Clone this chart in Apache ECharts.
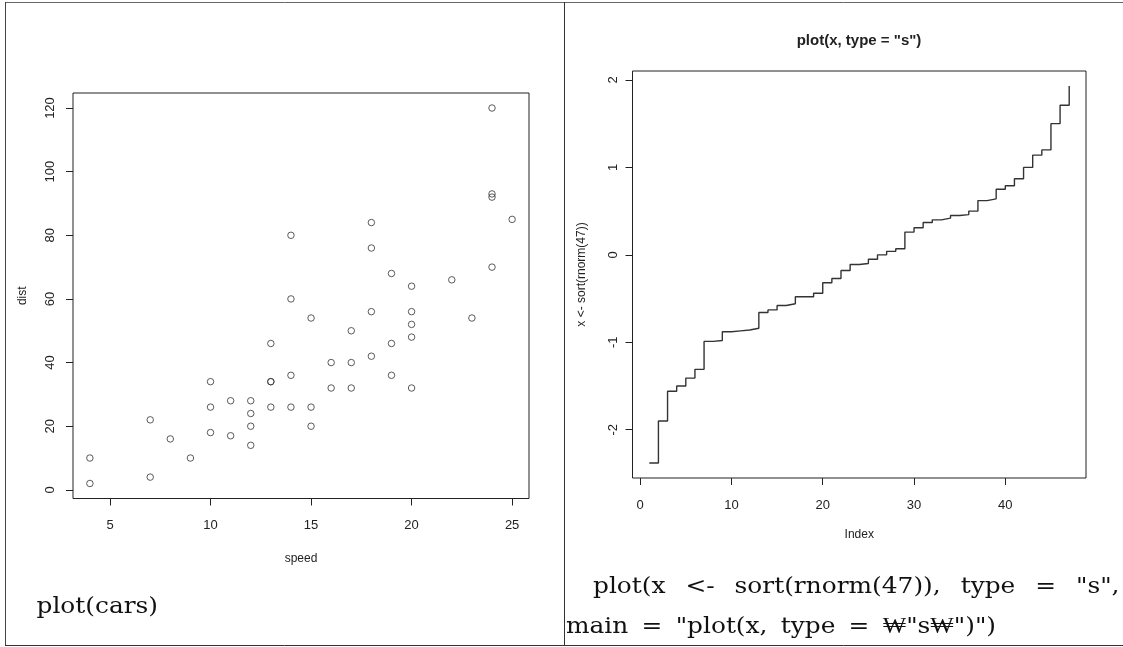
<!DOCTYPE html>
<html>
<head>
<meta charset="utf-8">
<script src="https://cdn.jsdelivr.net/npm/echarts@6/dist/echarts.min.js"></script>
<style>
  html, body { margin: 0; padding: 0; background: #fff; }
  #chart { width: 1123px; height: 647px; }
</style>
</head>
<body>
<div id="chart"></div>
<script>
// cars dataset (left panel)
const speed = [4, 4, 7, 7, 8, 9, 10, 10, 10, 11, 11, 12, 12, 12, 12, 13, 13, 13, 13, 14, 14, 14, 14, 15, 15, 15, 16, 16, 17, 17, 17, 18, 18, 18, 18, 19, 19, 19, 20, 20, 20, 20, 20, 22, 23, 24, 24, 24, 24, 25]
const dist = [2, 10, 4, 22, 16, 10, 18, 26, 34, 17, 28, 14, 20, 24, 28, 26, 34, 34, 46, 26, 36, 60, 80, 20, 26, 54, 32, 40, 32, 40, 50, 42, 56, 76, 84, 36, 46, 68, 32, 48, 52, 56, 64, 66, 54, 70, 92, 93, 120, 85]
const speedTicks = [5, 10, 15, 20, 25]
const distTicks = [0, 20, 40, 60, 80, 100, 120]

// sorted values (right panel), index 1..47
const sortedX = [
  -2.38, -1.90, -1.56, -1.50, -1.41, -1.31, -0.99, -0.98, -0.88, -0.87,
  -0.86, -0.84, -0.66, -0.63, -0.58, -0.56, -0.48, -0.48, -0.44, -0.32,
  -0.27, -0.18, -0.11, -0.10, -0.05, 0.00, 0.04, 0.07, 0.26, 0.31,
  0.37, 0.40, 0.42, 0.45, 0.46, 0.50, 0.62, 0.64, 0.75, 0.79,
  0.87, 1.00, 1.14, 1.20, 1.50, 1.71, 1.93
]
const indexTicks = [0, 10, 20, 30, 40]
const valueTicks = [-2, -1, 0, 1, 2]

// caption text under the plots
const captionCars = 'plot(cars)'
const caption1 = ['plot(x', '<-', 'sort(rnorm(47)),', 'type', '=', '"s",']
const caption2 = ['main', '=', '"plot(x,', 'type', '=', '₩"s₩")")']

const INK = '#222'
const SANS = 'Liberation Sans, Arial, sans-serif'
const CAPTION_FONT = '23px DejaVu Serif, serif'
const CAPTION_STRETCH = 1.08 // the original caption font is a wide Korean serif

// R pads each axis by 4% of the data range
function rRange(values) {
  const lo = Math.min(...values)
  const hi = Math.max(...values)
  const pad = (hi - lo) * 0.04
  return [lo - pad, hi + pad]
}

const index = sortedX.map((v, i) => i + 1)
const [sMin, sMax] = rRange(speed)
const [dMin, dMax] = rRange(dist)
const [iMin, iMax] = rRange(index)
const [vMin, vMax] = rRange(sortedX)

function rAxis(opts) {
  return {
    type: 'value',
    gridIndex: opts.grid,
    min: opts.min,
    max: opts.max,
    name: opts.name,
    nameLocation: 'middle',
    nameGap: opts.nameGap,
    nameTextStyle: { fontFamily: SANS, fontSize: 12, color: INK },
    axisLine: { show: false, onZero: false },
    splitLine: { show: false },
    axisTick: { show: true, length: 7, customValues: opts.ticks, lineStyle: { color: INK, width: 1 } },
    axisLabel: {
      customValues: opts.ticks,
      rotate: opts.rotate || 0,
      margin: opts.margin,
      fontFamily: SANS,
      fontSize: 13,
      color: INK
    }
  }
}

const measureCtx = document.createElement('canvas').getContext('2d')
measureCtx.font = CAPTION_FONT
const wordWidth = word => measureCtx.measureText(word).width * CAPTION_STRETCH

function captionText(word, x, y) {
  return {
    type: 'text',
    x: x,
    y: y,
    scaleX: CAPTION_STRETCH,
    style: { text: word, font: CAPTION_FONT, fill: '#111', textAlign: 'left', textVerticalAlign: 'middle' }
  }
}

// spread words between left and right with equal gaps (justified line)
function justifiedLine(words, left, right, y) {
  const total = words.reduce((sum, w) => sum + wordWidth(w), 0)
  const gap = (right - left - total) / (words.length - 1)
  let x = left
  return words.map(w => {
    const el = captionText(w, x, y)
    x += wordWidth(w) + gap
    return el
  })
}

const chart = echarts.init(document.getElementById('chart'))

const graphic = [
  // table lines
  { type: 'line', shape: { x1: 5, y1: 2.5, x2: 1123, y2: 2.5 }, style: { stroke: '#666', lineWidth: 1 } },
  { type: 'line', shape: { x1: 5.5, y1: 2, x2: 5.5, y2: 646 }, style: { stroke: '#444', lineWidth: 1 } },
  { type: 'line', shape: { x1: 5, y1: 645.5, x2: 1123, y2: 645.5 }, style: { stroke: '#333', lineWidth: 1 } },
  { type: 'line', shape: { x1: 564.5, y1: 2, x2: 564.5, y2: 646 }, style: { stroke: '#333', lineWidth: 1 } },
  // right plot title
  {
    type: 'text', x: 859, y: 41,
    style: { text: 'plot(x, type = "s")', font: 'bold 15px ' + SANS, fill: INK, textAlign: 'center', textVerticalAlign: 'middle' }
  },
  captionText(captionCars, 36.5, 607)
].concat(
  justifiedLine(caption1, 593, 1119.5, 587),
  justifiedLine(caption2, 566, 996, 627)
)

chart.setOption({
  backgroundColor: '#fff',
  animation: false,
  grid: [
    { left: 73, top: 93, width: 456, height: 405.5, show: true, borderColor: INK, borderWidth: 1, outerBoundsMode: 'none' },
    { left: 632.5, top: 71, width: 453.5, height: 407, show: true, borderColor: INK, borderWidth: 1, outerBoundsMode: 'none' }
  ],
  xAxis: [
    rAxis({ grid: 0, min: sMin, max: sMax, ticks: speedTicks, name: 'speed', nameGap: 54, margin: 20 }),
    rAxis({ grid: 1, min: iMin, max: iMax, ticks: indexTicks, name: 'Index', nameGap: 51, margin: 21 })
  ],
  yAxis: [
    rAxis({ grid: 0, min: dMin, max: dMax, ticks: distTicks, name: 'dist', nameGap: 44, margin: 16, rotate: 90 }),
    rAxis({ grid: 1, min: vMin, max: vMax, ticks: valueTicks, name: 'x <- sort(rnorm(47))', nameGap: 45, margin: 13, rotate: 90 })
  ],
  series: [
    {
      type: 'scatter',
      xAxisIndex: 0,
      yAxisIndex: 0,
      silent: true,
      symbol: 'circle',
      symbolSize: 6.5,
      itemStyle: { color: 'rgba(0,0,0,0)', borderColor: '#333', borderWidth: 1 },
      data: speed.map((s, i) => [s, dist[i]])
    },
    {
      type: 'line',
      xAxisIndex: 1,
      yAxisIndex: 1,
      silent: true,
      step: 'end',
      showSymbol: false,
      lineStyle: { color: '#333', width: 1.4 },
      data: sortedX.map((v, i) => [index[i], v])
    }
  ],
  graphic: graphic
})
</script>
</body>
</html>
